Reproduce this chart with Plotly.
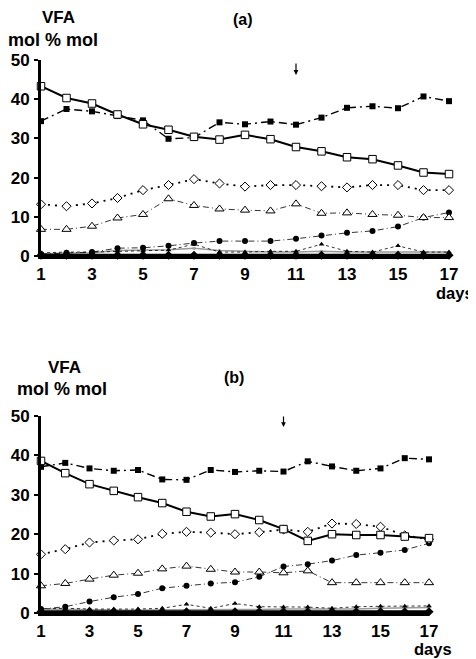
import plotly.graph_objects as go

days = list(range(1, 18))
x_ticks = [1, 3, 5, 7, 9, 11, 13, 15, 17]
y_ticks = [0, 10, 20, 30, 40, 50]

# Panel (a)
a_open_sq = [43.3, 40.3, 38.9, 36.1, 33.6, 32.2, 30.4, 29.7, 30.9, 29.8, 27.8, 26.7, 25.2, 24.7, 23.1, 21.3, 20.9]
a_fill_sq = [34.4, 37.5, 36.9, 35.7, 34.6, 29.9, 30.2, 34.1, 33.6, 34.3, 33.5, 35.3, 37.8, 38.2, 37.7, 40.7, 39.5]
a_open_dm = [13.2, 12.7, 13.4, 14.8, 16.8, 18.1, 19.6, 18.5, 17.7, 18.1, 18.1, 17.8, 17.5, 18.1, 18.1, 16.8, 16.8]
a_open_tr = [6.8, 6.8, 7.6, 9.7, 10.6, 14.6, 12.9, 12.0, 11.7, 11.5, 13.3, 10.9, 11.0, 10.6, 10.4, 9.8, 9.8]
a_fill_ci = [0.5, 0.8, 1.0, 2.0, 2.1, 2.6, 3.3, 3.8, 3.8, 3.8, 4.4, 5.2, 5.9, 6.4, 7.5, 9.8, 11.1]
a_fill_tr = [0.8, 1.0, 1.0, 1.2, 1.3, 1.5, 3.0, 1.0, 1.0, 1.2, 1.2, 3.0, 1.2, 1.0, 2.6, 1.0, 1.0]
a_gray = [0.6, 0.7, 0.8, 1.4, 1.5, 1.6, 2.0, 1.4, 1.2, 1.0, 1.0, 1.2, 1.0, 1.0, 1.0, 1.0, 1.0]
a_fill_dm = [0.2, 0.2, 0.2, 0.2, 0.2, 0.2, 0.2, 0.2, 0.2, 0.2, 0.2, 0.2, 0.2, 0.2, 0.2, 0.2, 0.2]

# Panel (b)
b_open_sq = [38.6, 35.5, 32.7, 31.0, 29.4, 27.9, 25.7, 24.5, 25.1, 23.6, 21.3, 18.3, 20.0, 19.8, 19.8, 19.4, 19.0]
b_fill_sq = [37.1, 38.1, 36.7, 36.1, 36.3, 33.9, 33.8, 36.3, 35.8, 36.1, 35.9, 38.5, 37.2, 36.1, 36.7, 39.3, 39.0]
b_open_dm = [14.9, 16.2, 17.9, 18.4, 18.7, 20.1, 20.6, 20.4, 20.0, 20.5, 21.2, 20.6, 22.7, 22.6, 21.9, 19.7, 18.7]
b_open_tr = [6.9, 7.5, 8.6, 9.6, 10.1, 11.2, 11.9, 11.1, 10.4, 10.4, 10.2, 10.7, 7.7, 7.7, 7.7, 7.7, 7.7]
b_fill_ci = [1.0, 1.6, 2.9, 4.0, 4.8, 6.3, 6.9, 7.5, 7.8, 9.2, 11.8, 12.4, 13.3, 14.7, 15.3, 16.0, 17.7]
b_fill_tr = [1.0, 1.2, 1.0, 1.0, 1.0, 1.2, 2.2, 1.2, 2.4, 1.6, 1.5, 1.5, 1.2, 1.6, 1.7, 1.7, 1.8]
b_gray = [1.0, 0.9, 0.8, 0.8, 0.7, 0.8, 0.8, 0.9, 0.9, 0.9, 1.0, 1.0, 1.0, 1.0, 1.2, 1.3, 1.4]
b_fill_dm = [0.3, 0.3, 0.3, 0.3, 0.3, 0.3, 0.3, 0.3, 0.3, 0.3, 0.3, 0.3, 0.3, 0.3, 0.3, 0.3, 0.3]

FONT = "Liberation Sans, Arial, sans-serif"

fig = go.Figure()


def add_panel(xa, ya, gray, fill_dm, fill_tr, fill_ci, open_tr, open_dm, fill_sq, open_sq):
    common = dict(x=days, xaxis=xa, yaxis=ya, showlegend=False, cliponaxis=False, mode="lines+markers")
    fig.add_trace(go.Scatter(y=gray, line=dict(color="#999999", width=1.5),
                             marker=dict(size=3, color="#999999"), **common))
    fig.add_trace(go.Scatter(y=fill_tr, line=dict(color="black", width=0.8, dash="dot"),
                             marker=dict(symbol="triangle-up", size=5, color="black"), **common))
    fig.add_trace(go.Scatter(y=fill_ci, line=dict(color="black", width=0.8, dash="6px,3px,1px,3px"),
                             marker=dict(symbol="circle", size=6, color="black"), **common))
    fig.add_trace(go.Scatter(y=open_tr, line=dict(color="black", width=0.8, dash="6px,3px,1px,3px"),
                             marker=dict(symbol="triangle-up", size=8, color="white",
                                         line=dict(color="black", width=1)), **common))
    fig.add_trace(go.Scatter(y=open_dm, line=dict(color="black", width=1.8, dash="2px,5px"),
                             marker=dict(symbol="diamond", size=7, color="white",
                                         line=dict(color="black", width=1)), **common))
    fig.add_trace(go.Scatter(y=fill_sq, line=dict(color="black", width=1.4, dash="8px,4px,2px,4px"),
                             marker=dict(symbol="square", size=6, color="black"), **common))
    fig.add_trace(go.Scatter(y=open_sq, line=dict(color="black", width=2),
                             marker=dict(symbol="square", size=7.5, color="white",
                                         line=dict(color="black", width=1)), **common))
    fig.add_trace(go.Scatter(y=fill_dm, line=dict(color="black", width=3),
                             marker=dict(symbol="diamond", size=7, color="black"), **common))


add_panel("x", "y", a_gray, a_fill_dm, a_fill_tr, a_fill_ci, a_open_tr, a_open_dm, a_fill_sq, a_open_sq)
add_panel("x2", "y2", b_gray, b_fill_dm, b_fill_tr, b_fill_ci, b_open_tr, b_open_dm, b_fill_sq, b_open_sq)

# page body has an 8px margin: figure is drawn at (8, 8)
OFF = 8
W, H = 476 - OFF, 659 - OFF


def px(X):
    return (X - OFF) / W


def py(Y):
    return 1 - (Y - OFF) / H


tickfont = dict(family=FONT, size=17, color="black")
xcommon = dict(range=[1, 17], tickvals=x_ticks, ticktext=[f"<b>{v}</b>" for v in x_ticks],
               showgrid=False, zeroline=False, showline=True, automargin=False,
               linecolor="black", linewidth=3, ticks="", tickfont=tickfont, ticklabelstandoff=1)
ycommon = dict(range=[0, 50], tickvals=y_ticks, ticktext=[f"<b>{v}</b>" for v in y_ticks],
               showgrid=False, zeroline=False, showline=True, automargin=False,
               linecolor="black", linewidth=3, ticks="outside", ticklen=4, tickwidth=2,
               tickcolor="black", tickfont=tickfont, ticklabelstandoff=1)

fig.update_layout(
    width=W, height=H, margin=dict(l=0, r=0, t=0, b=0, autoexpand=False),
    paper_bgcolor="white", plot_bgcolor="white",
    xaxis=dict(domain=[px(41), px(449)], anchor="y", **xcommon),
    yaxis=dict(domain=[py(256), py(60)], anchor="x", **ycommon),
    xaxis2=dict(domain=[px(41), px(429)], anchor="y2", **xcommon),
    yaxis2=dict(domain=[py(613), py(416)], anchor="x2", **ycommon),
)

tf = dict(family=FONT, size=17, color="black")
df = dict(family=FONT, size=16.5, color="black")
lf = dict(family=FONT, size=16, color="black")


def txt(t, X, Y, font, xanchor="center"):
    return dict(text=t, x=px(X), y=py(Y), xref="paper", yref="paper", xanchor=xanchor,
                yanchor="middle", showarrow=False, font=font, borderpad=0)


ann = [
    txt("<b>VFA</b>", 58, 17, tf),
    txt("<b>mol % mol</b>", 7, 40, dict(family=FONT, size=18, color="black"), "left"),
    txt("<b>(a)</b>", 243, 19, lf),
    txt("<b>days</b>", 455, 293, df),
    txt("<b>VFA</b>", 64, 367, tf),
    txt("<b>mol % mol</b>", 16, 389, dict(family=FONT, size=18, color="black"), "left"),
    txt("<b>(b)</b>", 234, 377, lf),
    txt("<b>days</b>", 433, 649, df),
    dict(text="", x=11, y=46.2, xref="x", yref="y", showarrow=True, ax=0, ay=-13,
         arrowhead=2, arrowsize=0.8, arrowwidth=1.2, arrowcolor="black"),
    dict(text="", x=11, y=47.2, xref="x2", yref="y2", showarrow=True, ax=0, ay=-12,
         arrowhead=2, arrowsize=0.8, arrowwidth=1.2, arrowcolor="black"),
]
fig.update_layout(annotations=ann)

fig.write_html("out.html")
